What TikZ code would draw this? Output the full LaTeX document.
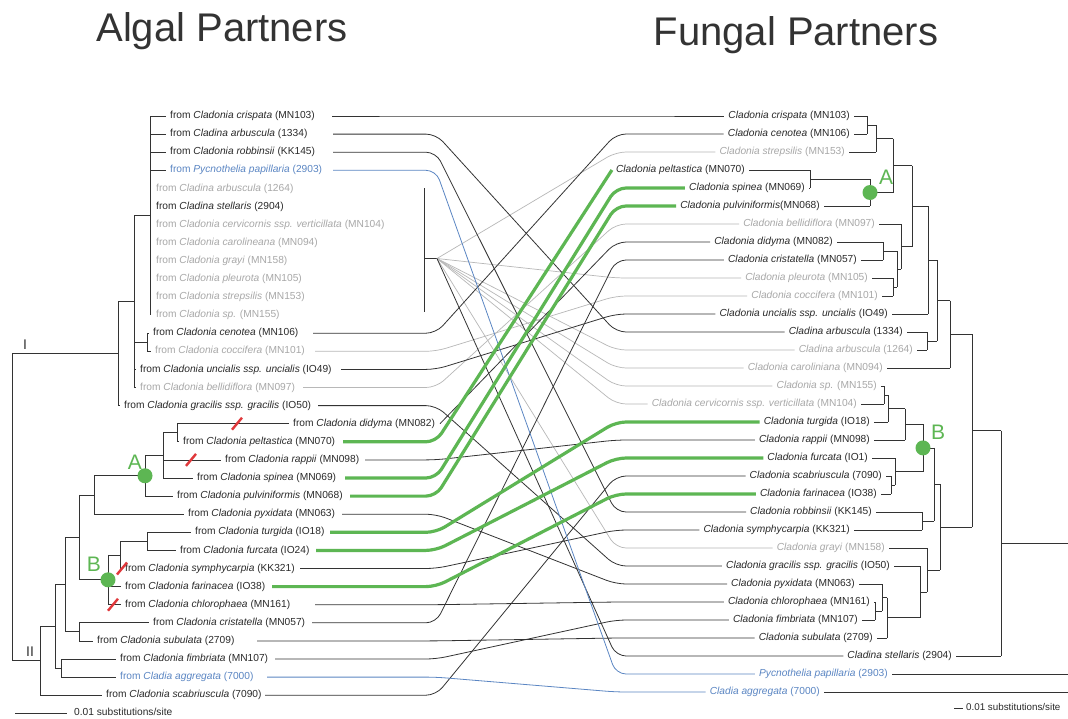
\documentclass[tikz,border=0pt]{standalone}
\usepackage{fontspec}
\setmainfont{Liberation Sans}
\definecolor{lc}{HTML}{333333}
\definecolor{gc}{HTML}{B8B8B8}
\definecolor{gtc}{HTML}{A8A8A8}
\definecolor{bc}{HTML}{5B86C3}
\definecolor{grc}{HTML}{5DB653}
\definecolor{rc}{HTML}{E0383B}
\definecolor{ttc}{HTML}{2A2A2A}
\begin{document}
\begin{tikzpicture}[x=1pt,y=-1pt,
  tree/.style={draw=lc,line width=0.8pt},
  cblk/.style={draw=lc,line width=0.8pt,rounded corners=10pt},
  cgry/.style={draw=gc,line width=0.7pt,rounded corners=10pt},
  cblu/.style={draw=bc,line width=0.8pt,rounded corners=10pt},
  cgrn/.style={draw=grc,line width=3.2pt,rounded corners=10pt},
  tb/.style={text=ttc}, tg/.style={text=gtc}, tbl/.style={text=bc},
  labbase/.style={font=\fontsize{10.2}{12}\selectfont,inner xsep=4pt,inner ysep=1pt,text height=7.5pt,text depth=2.2pt},
  lab/.style={labbase,anchor=west,xshift=-4pt},
  rlab/.style={labbase,anchor=east,xshift=4pt},
  title/.style={font=\fontsize{40}{44}\selectfont,text=lc,anchor=base},
  cladelab/.style={font=\fontsize{21}{24}\selectfont,text=grc,inner sep=0pt},
  dot/.style={fill=grc,draw=none},
  slash/.style={draw=rc,line width=2.4pt},
  roman/.style={font=\fontsize{14}{16}\selectfont,text=lc,inner sep=0pt}]
\useasboundingbox (0,0) rectangle (1068,718);
\fill[white] (0,0) rectangle (1068,718);

% titles
\node[title] (t1) at (222,41) {Algal Partners};
\node[title] (t2) at (796,45) {Fungal Partners};

\coordinate (bendL) at (436,0);
\coordinate (bendR) at (616,0);

% ---------- left leaves ----------
\foreach \ii/\yy/\tx/\px/\sx/\cl/\lbl in {
0/116/170/150/332/tb/{from \textit{Cladonia crispata} (MN103)},
1/134.1/170/150/333/tb/{from \textit{Cladina arbuscula} (1334)},
2/152.2/170/150/333/tb/{from \textit{Cladonia robbinsii} (KK145)},
3/170.3/170/150/333/tbl/{from \textit{Pycnothelia papillaria} (2903)},
4/188.4/156/0/0/tg/{from \textit{Cladina arbuscula} (1264)},
5/206.5/156/0/0/tb/{from \textit{Cladina stellaris} (2904)},
6/224.6/156/0/0/tg/{from \textit{Cladonia cervicornis ssp. verticillata} (MN104)},
7/242.7/156/0/0/tg/{from \textit{Cladonia carolineana} (MN094)},
8/260.8/156/0/0/tg/{from \textit{Cladonia grayi} (MN158)},
9/278.9/156/0/0/tg/{from \textit{Cladonia pleurota} (MN105)},
10/297/156/0/0/tg/{from \textit{Cladonia strepsilis} (MN153)},
11/315.1/156/0/0/tg/{from \textit{Cladonia sp.} (MN155)},
12/333.2/153/147/313/tb/{from \textit{Cladonia cenotea} (MN106)},
13/351.3/155/147/315/tg/{from \textit{Cladonia coccifera} (MN101)},
14/369.4/140/134/341/tb/{from \textit{Cladonia uncialis ssp. uncialis} (IO49)},
15/387.5/140/134/303/tg/{from \textit{Cladonia bellidiflora} (MN097)},
16/405.6/124/118/318/tb/{from \textit{Cladonia gracilis ssp. gracilis} (IO50)},
17/423.7/293/177/440/tb/{from \textit{Cladonia didyma} (MN082)},
18/441.8/183/177/343/tb/{from \textit{Cladonia peltastica} (MN070)},
19/459.9/225/163/365/tb/{from \textit{Cladonia rappii} (MN098)},
20/478/197/163/345/tb/{from \textit{Cladonia spinea} (MN069)},
21/496.1/177/145/350/tb/{from \textit{Cladonia pulviniformis} (MN068)},
22/514.2/188/94/342/tb/{from \textit{Cladonia pyxidata} (MN063)},
23/532.3/195/147/330/tb/{from \textit{Cladonia turgida} (IO18)},
24/550.4/180/147/316/tb/{from \textit{Cladonia furcata} (IO24)},
25/568.5/125/120/300/tb/{from \textit{Cladonia symphycarpia} (KK321)},
26/586.6/125/108/272/tb/{from \textit{Cladonia farinacea} (IO38)},
27/604.7/125/108/315/tb/{from \textit{Cladonia chlorophaea} (MN161)},
28/622.8/153/79/312/tb/{from \textit{Cladonia cristatella} (MN057)},
29/640.9/97/79/257/tb/{from \textit{Cladonia subulata} (2709)},
30/659/120/61/275/tb/{from \textit{Cladonia fimbriata} (MN107)},
31/677.1/120/61/267/tbl/{from \textit{Cladia aggregata} (7000)},
32/695.2/106/40/265/tb/{from \textit{Cladonia scabriuscula} (7090)}}{
  \node[lab,\cl] (L\ii) at (\tx,\yy) {\lbl};
  \coordinate (S\ii) at (\sx,\yy);
  \ifnum\px>0 \draw[tree] (\px,\yy) -- (L\ii.west); \fi
}

% ---------- right leaves ----------
\foreach \ii/\yy/\ex/\px/\cl/\lbl in {
0/116/850/867/tb/{\textit{Cladonia crispata} (MN103)},
1/134/850/867/tb/{\textit{Cladonia cenotea} (MN106)},
2/152/845/876/tg/{\textit{Cladonia strepsilis} (MN153)},
3/170/745/810/tb/{\textit{Cladonia peltastica} (MN070)},
4/188/805/810/tb/{\textit{Cladonia spinea} (MN069)},
5/206/820/870/tb/{\textit{Cladonia pulviniformis}(MN068)},
6/224/875/901/tg/{\textit{Cladonia bellidiflora} (MN097)},
7/242/833/883/tb/{\textit{Cladonia didyma} (MN082)},
8/260/857/883/tb/{\textit{Cladonia cristatella} (MN057)},
9/278/868/893/tg/{\textit{Cladonia pleurota} (MN105)},
10/296/878/893/tg/{\textit{Cladonia coccifera} (MN101)},
11/314/888/928/tb/{\textit{Cladonia uncialis ssp. uncialis} (IO49)},
12/332/903/927/tb/{\textit{Cladina arbuscula} (1334)},
13/350/913/927/tg/{\textit{Cladina arbuscula} (1264)},
14/368/883/950/tg/{\textit{Cladonia caroliniana} (MN094)},
15/386/877/884/tg/{\textit{Cladonia sp.} (MN155)},
16/404/857/884/tg/{\textit{Cladonia cervicornis ssp. verticillata} (MN104)},
17/422/870/888/tb/{\textit{Cladonia turgida} (IO18)},
18/440/870/905/tb/{\textit{Cladonia rappii} (MN098)},
19/458/868/895/tb/{\textit{Cladonia furcata} (IO1)},
20/476/882/891/tb/{\textit{Cladonia scabriuscula} (7090)},
21/494/877/891/tb/{\textit{Cladonia farinacea} (IO38)},
22/512/872/922/tb/{\textit{Cladonia robbinsii} (KK145)},
23/530/850/922/tb/{\textit{Cladonia symphycarpia} (KK321)},
24/548/885/927/tg/{\textit{Cladonia grayi} (MN158)},
25/566/890/920/tb/{\textit{Cladonia gracilis ssp. gracilis} (IO50)},
26/584/855/882/tb/{\textit{Cladonia pyxidata} (MN063)},
27/602/870/875/tb/{\textit{Cladonia chlorophaea} (MN161)},
28/620/858/875/tb/{\textit{Cladonia fimbriata} (MN107)},
29/638/873/887/tb/{\textit{Cladonia subulata} (2709)},
30/656/952/1001/tb/{\textit{Cladina stellaris} (2904)},
31/674/888/1068/tbl/{\textit{Pycnothelia papillaria} (2903)},
32/692/820/1068/tbl/{\textit{Cladia aggregata} (7000)}}{
  \node[rlab,\cl] (R\ii) at (\ex,\yy) {\lbl};
  \draw[tree] (R\ii.east) -- (\px,\yy);
}

% ---------- left tree ----------
\draw[tree] (12,353.55) -- (12,660.75);
\draw[tree] (12,353.55) -- (118,353.55) (118,301.5) -- (118,405.6);
\draw[tree] (118,301.5) -- (134,301.5) (134,215.55) -- (134,387.5);
\draw[tree] (134,215.55) -- (150,215.55) (150,116) -- (150,315.1);
\draw[tree] (134,342.25) -- (147,342.25) (147,333.2) -- (147,351.3);
\draw[tree] (12,660.75) -- (40,660.75) (40,626.3) -- (40,695.2);
\draw[tree] (40,626.3) -- (55,626.3) (55,584.6) -- (55,668.05);
\draw[tree] (55,668.05) -- (61,668.05) (61,659) -- (61,677.1);
\draw[tree] (55,584.6) -- (65,584.6) (65,537.4) -- (65,631.85);
\draw[tree] (65,631.85) -- (79,631.85) (79,622.8) -- (79,640.9);
\draw[tree] (65,537.4) -- (79,537.4) (79,494.98) -- (79,579.8);
\draw[tree] (79,494.98) -- (94,494.98) (94,475.75) -- (94,514.2);
\draw[tree] (94,475.75) -- (145,475.75) (145,455.4) -- (145,496.1);
\draw[tree] (145,455.4) -- (163,455.4) (163,432.75) -- (163,478);
\draw[tree] (163,432.75) -- (177,432.75) (177,423.7) -- (177,441.8);
\draw[tree] (79,579.8) -- (108,579.8) (108,554.9) -- (108,604.7);
\draw[tree] (108,554.9) -- (120,554.9) (120,541.35) -- (120,568.5);
\draw[tree] (120,541.35) -- (147,541.35) (147,532.3) -- (147,550.4);

% polytomy bar and fan point
\draw[tree] (424,188.4) -- (424,312);
\coordinate (fan) at (437,258.5);
\draw[tree] (424,258.5) -- (fan);

% ---------- right tree ----------
\draw[tree] (867,116) -- (867,134) (867,125) -- (876,125) (876,125) -- (876,152);
\draw[tree] (810,170) -- (810,188) (810,179) -- (870,179) (870,179) -- (870,206);
\draw[tree] (876,138.5) -- (893,138.5) (870,192.5) -- (893,192.5) (893,138.5) -- (893,192.5);
\draw[tree] (893,165.5) -- (912,165.5) (912,165.5) -- (912,246.5);
\draw[tree] (883,242) -- (883,260) (893,278) -- (893,296);
\draw[tree] (883,251) -- (897,251) (893,287) -- (897,287) (897,251) -- (897,287);
\draw[tree] (897,269) -- (901,269) (901,224) -- (901,269) (901,246.5) -- (912,246.5);
\draw[tree] (912,206) -- (928,206) (928,206) -- (928,314);
\draw[tree] (927,332) -- (927,350);
\draw[tree] (928,260) -- (937,260) (927,341) -- (937,341) (937,260) -- (937,341);
\draw[tree] (937,300.5) -- (950,300.5) (950,300.5) -- (950,368);
\draw[tree] (950,334.25) -- (972,334.25);
\draw[tree] (884,386) -- (884,404) (884,395) -- (888,395) (888,395) -- (888,422);
\draw[tree] (888,408.5) -- (905,408.5) (905,408.5) -- (905,440);
\draw[tree] (891,476) -- (891,494) (891,485) -- (895,485) (895,458) -- (895,485);
\draw[tree] (905,424.25) -- (923,424.25) (895,471.5) -- (923,471.5) (923,424.25) -- (923,471.5);
\draw[tree] (922,512) -- (922,530);
\draw[tree] (923,447.9) -- (934,447.9) (922,521) -- (934,521) (934,447.9) -- (934,521);
\draw[tree] (875,602) -- (875,620) (875,611) -- (882,611) (882,584) -- (882,611);
\draw[tree] (882,597.5) -- (887,597.5) (887,597.5) -- (887,638);
\draw[tree] (887,617.75) -- (920,617.75) (920,566) -- (920,617.75);
\draw[tree] (920,591.9) -- (927,591.9) (927,548) -- (927,591.9);
\draw[tree] (934,484.45) -- (940,484.45) (927,569.95) -- (940,569.95) (940,484.45) -- (940,569.95);
\draw[tree] (940,527.2) -- (972,527.2) (972,334.25) -- (972,527.2);
\draw[tree] (972,430.7) -- (1001,430.7) (1001,430.7) -- (1001,656);
\draw[tree] (1001,543.35) -- (1068,543.35);

% ---------- connectors ----------
\foreach \la/\rb in {13/10, 15/6}
  \draw[cgry] (S\la) -- (S\la -| bendL) -- (R\rb.west -| bendR) -- (R\rb.west);
\foreach \rb in {2,9,13,14,15,16,24}
  \draw[cgry] (fan) -- (R\rb.west -| bendR) -- (R\rb.west);
\draw[cblk] (fan) -- (R30.west -| bendR) -- (R30.west);
\foreach \la/\rb in {0/0, 1/12, 2/22, 12/1, 14/11, 16/25, 19/18, 22/26, 25/23, 27/27, 28/8, 29/29, 30/28, 32/20}
  \draw[cblk] (S\la) -- (S\la -| bendL) -- (R\rb.west -| bendR) -- (R\rb.west);
\draw[cblk] (S17) -- (R7.west -| bendR) -- (R7.west);
\foreach \la/\rb in {3/31, 31/32}
  \draw[cblu] (S\la) -- (S\la -| bendL) -- (R\rb.west -| bendR) -- (R\rb.west);
\foreach \la/\rb in {20/4, 21/5, 23/17, 24/19, 26/21}
  \draw[cgrn] (S\la) -- (S\la -| bendL) -- (R\rb.west -| bendR) -- (R\rb.west);
\draw[cgrn] (S18) -- (S18 -| bendL) -- (R3.west);

% ---------- clade marks ----------
\fill[dot] (145,475.75) circle (7.5);
\fill[dot] (108,579.8) circle (7.5);
\fill[dot] (870,192.5) circle (7.5);
\fill[dot] (923,447.9) circle (7.5);
\node[cladelab] (aL) at (135,462) {A};
\node[cladelab] (bL) at (94,564) {B};
\node[cladelab] (aR) at (886,177) {A};
\node[cladelab] (bR) at (938,432) {B};

% red slashes (lost associations)
\foreach \xx/\yy in {237/423.7, 191/459.9, 122/568.5, 113/604.7}
  \draw[slash] (\xx-5,\yy+6) -- (\xx+5,\yy-6);

% roman numerals
\node[roman] (r1) at (25,345) {I};
\node[roman] (r2) at (30,652) {II};

% scale bars
\draw[tree] (15,713) -- (67,713);
\node[labbase,anchor=west,text=ttc,inner xsep=0pt] (sc1) at (74,713) {0.01 substitutions/site};
\draw[tree] (954,708) -- (963,708);
\node[labbase,anchor=west,text=ttc,inner xsep=0pt,font=\fontsize{9.8}{12}\selectfont] (sc2) at (966,708) {0.01 substitutions/site};
\end{tikzpicture}
\end{document}
